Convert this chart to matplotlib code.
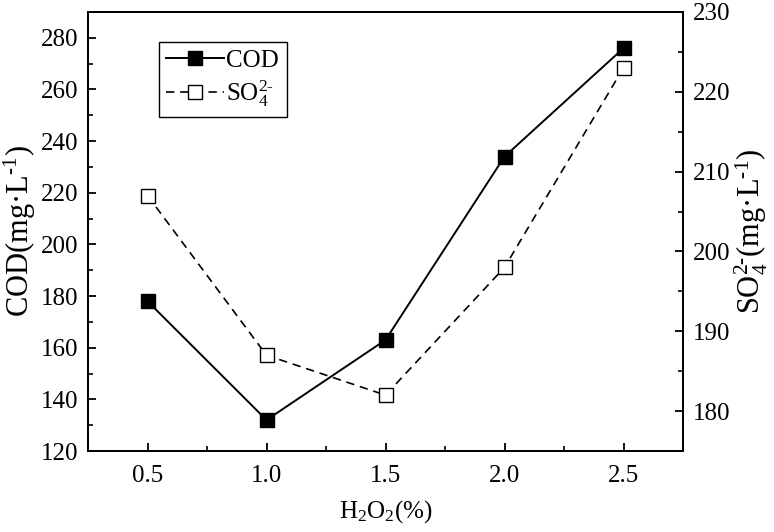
import matplotlib
matplotlib.use("Agg")
import matplotlib.pyplot as plt
from matplotlib.ticker import MultipleLocator
from matplotlib.lines import Line2D

plt.rcParams['font.family'] = ['Liberation Serif', 'DejaVu Serif']
plt.rcParams['mathtext.fontset'] = 'custom'
plt.rcParams['mathtext.rm'] = 'Liberation Serif'
plt.rcParams['mathtext.it'] = 'Liberation Serif:italic'
plt.rcParams['mathtext.default'] = 'rm'

h2o2 = [0.5, 1.0, 1.5, 2.0, 2.5]
cod = [178, 132, 163, 234, 276]
so4 = [207, 187, 182, 198, 223]
x_ticks = [0.5, 1.0, 1.5, 2.0, 2.5]
x_tick_labels = ["0.5", "1.0", "1.5", "2.0", "2.5"]
cod_ticks = [120, 140, 160, 180, 200, 220, 240, 260, 280]
so4_ticks = [180, 190, 200, 210, 220, 230]

fig = plt.figure(figsize=(7.74, 5.32), dpi=100)
ax = fig.add_axes([88/774, 1-451/532, (683-88)/774, (451-12)/532])
ax2 = ax.twinx()

fs = 18
lfs = 22
ms = 9.5
ax.plot(h2o2, cod, '-', color='black', lw=1.4, marker='s', ms=ms,
        mfc='black', mec='black')
ax2.plot(h2o2, so4, color='black', lw=1.2, ls=(0, (5, 3.5)), marker='s', ms=ms,
         mfc='white', mec='black', mew=1.0)

ax.set_xlim(0.25, 2.75)
ax.set_ylim(120, 290)
ax2.set_ylim(175, 230)

ax.set_xticks(x_ticks)
ax.set_xticklabels(x_tick_labels)
ax.xaxis.set_minor_locator(MultipleLocator(0.25))
ax.set_yticks(cod_ticks)
ax.yaxis.set_minor_locator(MultipleLocator(10))
ax2.set_yticks(so4_ticks)
ax2.yaxis.set_minor_locator(MultipleLocator(5))

for a in (ax, ax2):
    for sp in a.spines.values():
        sp.set_linewidth(1.4)
ax.tick_params(axis='both', which='major', direction='in', length=6, width=1.3, labelsize=fs, pad=7)
ax.tick_params(axis='x', which='major', pad=10)
ax.tick_params(axis='both', which='minor', direction='in', length=3.5, width=1.2)
ax.tick_params(axis='y', which='both', right=False)
ax.tick_params(axis='x', which='both', top=False)
ax2.tick_params(axis='y', which='major', direction='in', length=6, width=1.3, labelsize=fs, pad=7)
ax2.tick_params(axis='y', which='minor', direction='in', length=3.5, width=1.2)

ax.set_xlabel('H$_2$O$_2$(%)', fontsize=fs, labelpad=8)
ax.set_ylabel('COD(mg\u00b7L$^{\u20101}$)', fontsize=lfs, labelpad=2)
ax2.set_ylabel('SO$_4^{2\u2010}$(mg\u00b7L$^{\u20101}$)', fontsize=lfs, labelpad=2)

h1 = Line2D([], [], color='black', lw=1.4, marker='s', ms=ms, mfc='black', mec='black')
h2 = Line2D([], [], color='black', lw=1.2, ls=(0, (5, 3.5)), marker='s', ms=ms, mfc='white', mec='black')
leg = ax.legend([h1, h2], ['COD', 'SO$_4^{2\u2010}$'], loc='upper left',
                bbox_to_anchor=(0.119, 0.932), borderaxespad=0, fontsize=fs,
                fancybox=False, frameon=True, edgecolor='black', handlelength=2.3,
                handletextpad=0.1, borderpad=0.3, labelspacing=0.25)
leg.get_frame().set_linewidth(1.0)
leg.get_frame().set_alpha(1)

fig.savefig('out.png', dpi=100)
